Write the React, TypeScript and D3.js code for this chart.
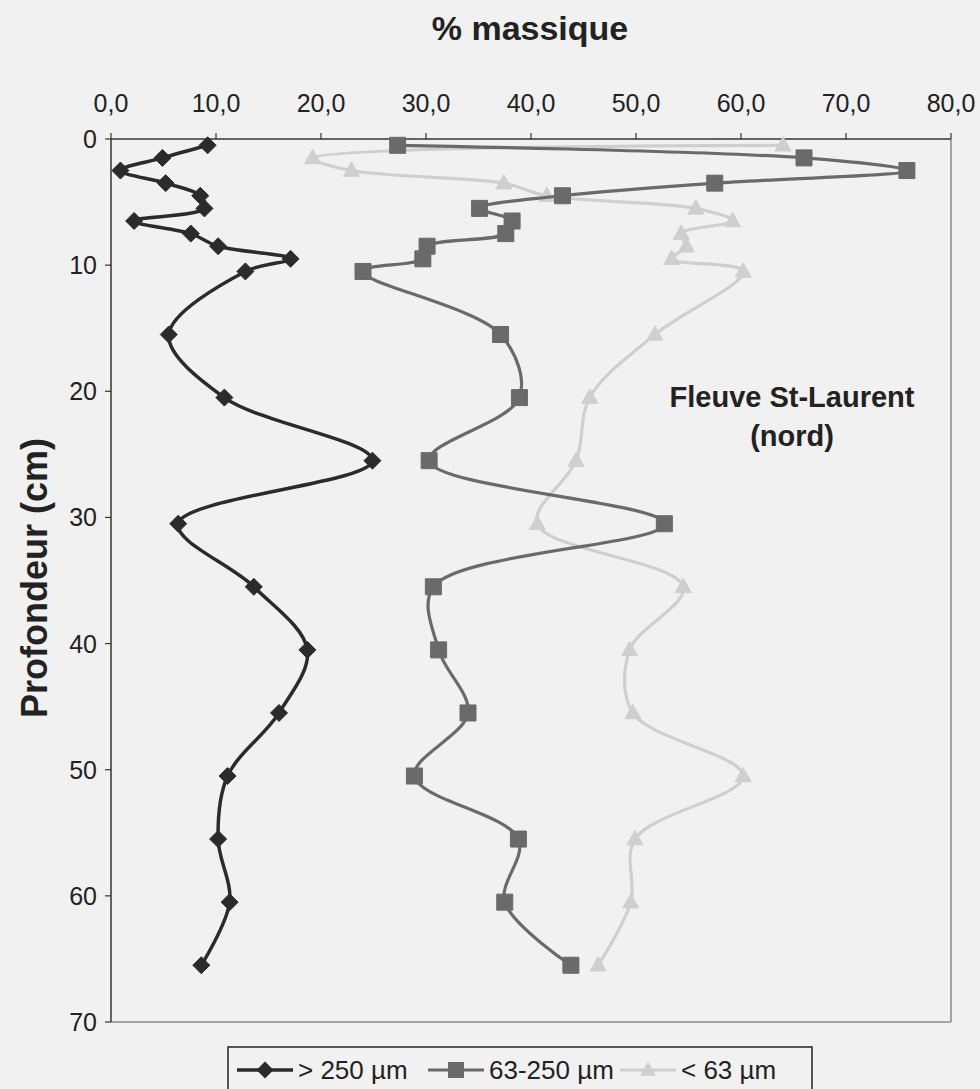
import * as d3 from "d3";

// depth (cm) of each sample
const depths = [0.5, 1.5, 2.5, 3.5, 4.5, 5.5, 6.5, 7.5, 8.5, 9.5, 10.5, 15.5, 20.5, 25.5, 30.5, 35.5, 40.5, 45.5, 50.5, 55.5, 60.5, 65.5];
// % massique per fraction
const coarse = [9.2, 4.9, 0.9, 5.2, 8.5, 8.9, 2.2, 7.6, 10.2, 17.1, 12.8, 5.5, 10.8, 24.9, 6.4, 13.6, 18.7, 16.0, 11.1, 10.2, 11.3, 8.6];
const medium = [27.3, 66.0, 75.8, 57.5, 43.0, 35.1, 38.2, 37.6, 30.1, 29.7, 24.0, 37.1, 38.9, 30.3, 52.7, 30.7, 31.2, 34.0, 28.9, 38.8, 37.5, 43.8];
const fine = [64.0, 19.2, 22.9, 37.4, 41.5, 55.7, 59.2, 54.3, 54.8, 53.4, 60.2, 51.8, 45.6, 44.3, 40.6, 54.5, 49.4, 49.7, 60.2, 49.9, 49.5, 46.4];
const seriesNames = ["> 250 µm", "63-250 µm", "< 63 µm"];
const xTicks = [0, 10, 20, 30, 40, 50, 60, 70, 80];
const yTicks = [0, 10, 20, 30, 40, 50, 60, 70];

const W = 980;
const H = 1089;
const font = "'Liberation Sans', Arial, sans-serif";

type Shape = "diamond" | "square" | "triangle";

const marker = (shape: Shape, cx: number, cy: number, r: number) => {
  if (shape === "diamond") return `M${cx},${cy - r}L${cx + r},${cy}L${cx},${cy + r}L${cx - r},${cy}Z`;
  if (shape === "square") return `M${cx - r},${cy - r}h${2 * r}v${2 * r}h${-2 * r}Z`;
  const h = r * 1.8;
  return `M${cx},${cy - h * 0.6}L${cx + r},${cy + h * 0.4}L${cx - r},${cy + h * 0.4}Z`;
};

export default function App() {
  const x = d3.scaleLinear().domain([0, 80]).range([111, 951]);
  const y = d3.scaleLinear().domain([0, 70]).range([139, 1022]);

  const series = [
    { name: seriesNames[0], values: coarse, color: "#2b2b2b", shape: "diamond" as Shape, r: 8.5, lw: 3.5 },
    { name: seriesNames[1], values: medium, color: "#6a6a6a", shape: "square" as Shape, r: 8, lw: 3.2 },
    { name: seriesNames[2], values: fine, color: "#cfcfcf", shape: "triangle" as Shape, r: 8, lw: 3.2 },
  ];

  const line = d3
    .line<number>()
    .x((v) => x(v))
    .y((_, i) => y(depths[i]))
    .curve(d3.curveCatmullRom.alpha(0.5));

  const [x0, x1] = x.range();
  const [y0, y1] = y.range();

  const legendX = [237, 428, 620];

  return (
    <svg width={W} height={H} style={{ position: "absolute", left: 0, top: 0, background: "#f1f1f1" }} fontFamily={font}>
      <rect x={0} y={0} width={W} height={H} fill="#f1f1f1" />

      <text x={530} y={40} textAnchor="middle" fontSize={34} fontWeight="bold" fill="#222">
        % massique
      </text>

      {/* plot frame */}
      <line x1={x1} y1={y0} x2={x1} y2={y1} stroke="#8a8a8a" strokeWidth={1.5} />
      <line x1={x0} y1={y1} x2={x1} y2={y1} stroke="#8a8a8a" strokeWidth={1.5} />
      <line x1={x0} y1={y0} x2={x1} y2={y0} stroke="#333" strokeWidth={1.5} />
      <line x1={x0} y1={y0} x2={x0} y2={y1} stroke="#333" strokeWidth={1.5} />

      {xTicks.map((t) => (
        <g key={"x" + t}>
          <line x1={x(t)} x2={x(t)} y1={y0} y2={y0 - 6} stroke="#333" strokeWidth={1.2} />
          <text x={x(t)} y={112} textAnchor="middle" fontSize={25} fill="#222">
            {t.toFixed(1).replace(".", ",")}
          </text>
        </g>
      ))}
      {yTicks.map((t) => (
        <g key={"y" + t}>
          <line x1={x0 - 6} x2={x0} y1={y(t)} y2={y(t)} stroke="#333" strokeWidth={1.2} />
          <text x={97} y={y(t) + 9} textAnchor="end" fontSize={25} fill="#222">
            {t}
          </text>
        </g>
      ))}

      <text transform="translate(47,578) rotate(-90)" textAnchor="middle" fontSize={36} fontWeight="bold" fill="#222">
        Profondeur (cm)
      </text>

      <text x={792} y={407} textAnchor="middle" fontSize={29} fontWeight="bold" fill="#222">
        Fleuve St-Laurent
      </text>
      <text x={792} y={446} textAnchor="middle" fontSize={29} fontWeight="bold" fill="#222">
        (nord)
      </text>

      {series
        .slice()
        .reverse()
        .map((s) => (
          <g key={s.name}>
            <path d={line(s.values) || ""} fill="none" stroke={s.color} strokeWidth={s.lw} strokeLinejoin="round" />
            {s.values.map((v, i) => (
              <path key={i} d={marker(s.shape, x(v), y(depths[i]), s.r)} fill={s.color} stroke={s.color} strokeWidth={1} />
            ))}
          </g>
        ))}

      {/* legend */}
      <rect x={228} y={1047} width={584} height={50} fill="#f1f1f1" stroke="#222" strokeWidth={1.5} />
      {series.map((s, i) => (
        <g key={"lg" + i}>
          <line x1={legendX[i]} x2={legendX[i] + 56} y1={1070} y2={1070} stroke={s.color} strokeWidth={s.lw} />
          <path d={marker(s.shape, legendX[i] + 28, 1070, s.r)} fill={s.color} />
          <text x={legendX[i] + 61} y={1079} fontSize={26} fill="#222">
            {s.name}
          </text>
        </g>
      ))}
    </svg>
  );
}
